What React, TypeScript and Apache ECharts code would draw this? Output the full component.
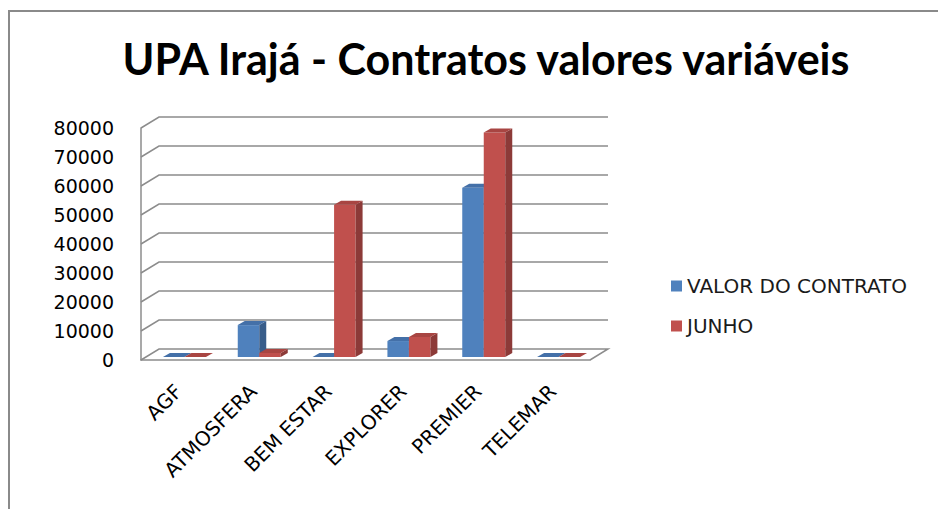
import React, { useEffect, useRef } from "react";
import * as echarts from "echarts";

const categories = ["AGF", "ATMOSFERA", "BEM ESTAR", "EXPLORER", "PREMIER", "TELEMAR"];
const valorContrato = [0, 11000, 0, 5500, 58400, 0];
const junho = [0, 1400, 52500, 6900, 77400, 0];
const yTicks = [0, 10000, 20000, 30000, 40000, 50000, 60000, 70000, 80000];
const seriesNames = ["VALOR DO CONTRATO", "JUNHO"];

const DX = 18;
const DY = -11;
const BAR_W = 21.5;
const BAR_OX = 6;
const BAR_OY = -3;
const DEPTH_X = 7;
const DEPTH_Y = -4;

const faces = [
  { front: "#4F81BD", side: "#385D8A", top: "#4470A8" },
  { front: "#C0504D", side: "#8C3A38", top: "#A84542" },
];

function barRenderer(seriesIdx: number) {
  return (params: any, api: any) => {
    const idx = api.value(0);
    const v = api.value(1);
    const base = api.coord([idx, 0]);
    const topPt = api.coord([idx, v]);
    const cx = base[0] + BAR_OX;
    const x1 = seriesIdx === 0 ? cx - BAR_W : cx;
    const x2 = x1 + BAR_W;
    const yb = base[1] + BAR_OY;
    const yt = topPt[1] + BAR_OY;
    const c = faces[seriesIdx];
    return {
      type: "group",
      children: [
        {
          type: "rect",
          shape: { x: x1, y: yt, width: BAR_W, height: yb - yt },
          style: { fill: c.front },
        },
        {
          type: "polygon",
          shape: {
            points: [
              [x2, yt],
              [x2 + DEPTH_X, yt + DEPTH_Y],
              [x2 + DEPTH_X, yb + DEPTH_Y],
              [x2, yb],
            ],
          },
          style: { fill: c.side },
        },
        {
          type: "polygon",
          shape: {
            points: [
              [x1, yt],
              [x1 + DEPTH_X, yt + DEPTH_Y],
              [x2 + DEPTH_X, yt + DEPTH_Y],
              [x2, yt],
            ],
          },
          style: { fill: c.top },
        },
      ],
    };
  };
}

export default function App() {
  const ref = useRef<HTMLDivElement>(null);
  useEffect(() => {
    if (!ref.current) return;
    const chart = echarts.init(ref.current, undefined, { renderer: "svg" });
    chart.setOption({
      animation: false,
      backgroundColor: "#ffffff",
      title: {
        text: "UPA Irajá - Contratos valores variáveis",
        left: 481,
        textAlign: "center",
        top: 32,
        textStyle: {
          fontFamily: "Lato",
          fontWeight: "bold",
          fontSize: 43,
          color: "#000000",
        },
      },
      graphic: [
        {
          type: "rect",
          shape: { x: 9, y: 11, width: 1200, height: 800 },
          style: { fill: "none", stroke: "#8a8a8a", lineWidth: 2 },
          z: -1,
        },
      ],
      legend: {
        orient: "vertical",
        left: 666,
        top: 271,
        itemWidth: 11,
        itemHeight: 11,
        itemGap: 20,
        icon: "rect",
        data: seriesNames,
        textStyle: { fontFamily: "DejaVu Sans", fontSize: 20, color: "#1a1a1a" },
      },
      grid: { left: 141, right: 348, top: 128, bottom: 149 },
      xAxis: {
        type: "category",
        data: categories,
        boundaryGap: true,
        axisLine: { show: true, lineStyle: { color: "#8c8c8c", width: 1.5 } },
        axisTick: { show: false },
        axisLabel: {
          rotate: 45,
          margin: 28,
          interval: 0,
          fontFamily: "DejaVu Sans",
          fontSize: 20,
          color: "#000000",
        },
      },
      yAxis: {
        type: "value",
        min: 0,
        max: 80000,
        interval: 10000,
        axisLine: { show: true, lineStyle: { color: "#8c8c8c", width: 1.5 } },
        axisTick: { show: false },
        splitLine: { show: false },
        axisLabel: {
          margin: 27,
          fontFamily: "DejaVu Sans",
          fontSize: 19,
          color: "#000000",
          formatter: (v: number) => String(v),
        },
      },
      series: [
        {
          type: "custom",
          name: "walls",
          data: yTicks.map((v) => [0, v]),
          z: 1,
          silent: true,
          renderItem: (params: any, api: any) => {
            const cs = params.coordSys;
            const v = api.value(1);
            const y = api.coord([0, v])[1];
            const pts: number[][] = [
              [cs.x, y],
              [cs.x + DX, y + DY],
              [cs.x + cs.width + DX, y + DY],
            ];
            if (v === 0) pts.push([cs.x + cs.width, y]);
            return {
              type: "polyline",
              shape: { points: pts },
              style: { stroke: "#8c8c8c", lineWidth: 1.5, fill: "none" },
            };
          },
        },
        {
          type: "custom",
          name: seriesNames[0],
          itemStyle: { color: faces[0].front },
          data: valorContrato.map((v, i) => [i, v]),
          z: 2,
          renderItem: barRenderer(0),
        },
        {
          type: "custom",
          name: seriesNames[1],
          itemStyle: { color: faces[1].front },
          data: junho.map((v, i) => [i, v]),
          z: 3,
          renderItem: barRenderer(1),
        },
      ],
    });
    return () => chart.dispose();
  }, []);
  return (
    <div
      ref={ref}
      style={{ position: "fixed", left: 0, top: 0, width: 938, height: 509 }}
    />
  );
}
